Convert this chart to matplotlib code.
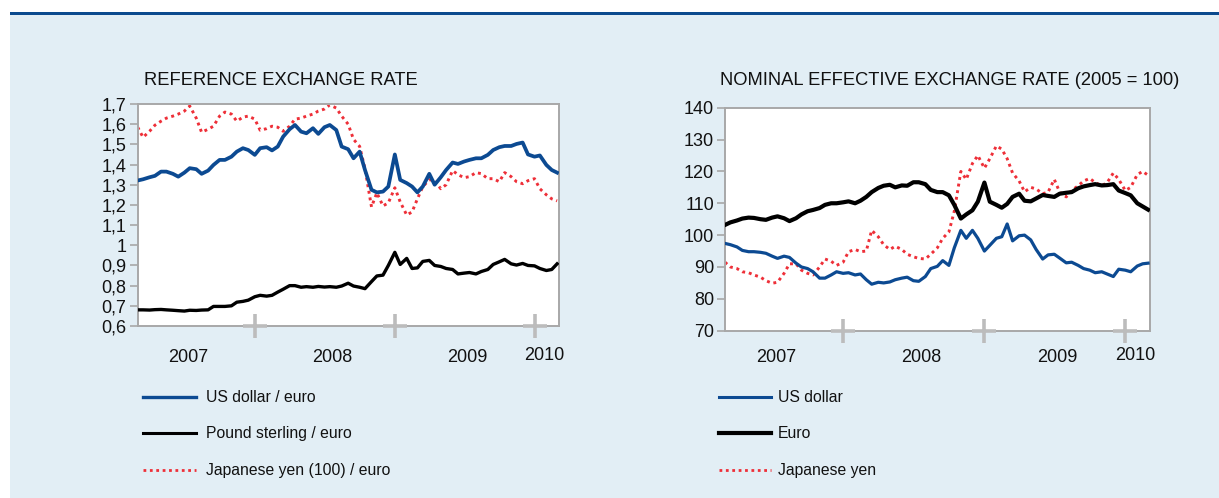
import numpy as np
import pandas as pd
import matplotlib
matplotlib.use("Agg")
import matplotlib.pyplot as plt
import matplotlib.transforms as mtransforms
from matplotlib.lines import Line2D
from matplotlib.patches import Rectangle
from matplotlib.ticker import FuncFormatter, MultipleLocator

plt.rcParams['font.family'] = ['Liberation Sans', 'DejaVu Sans']

# ---------------- data (semi-monthly readings, Mar 2007 - Mar 2010) ----------------
dates = pd.date_range('2007-03-01', periods=73, freq='SMS')

usd_eur = [1.321, 1.327, 1.337, 1.344, 1.365, 1.365, 1.354, 1.340, 1.360, 1.382,
           1.377, 1.354, 1.370, 1.398, 1.423, 1.423, 1.439, 1.464, 1.481, 1.472,
           1.448, 1.481, 1.486, 1.470, 1.489, 1.538, 1.575, 1.596, 1.563, 1.555,
           1.580, 1.552, 1.585, 1.596, 1.571, 1.489, 1.476, 1.431, 1.464, 1.373,
           1.275, 1.262, 1.266, 1.291, 1.450, 1.324, 1.308, 1.291, 1.262, 1.291,
           1.354, 1.300, 1.337, 1.373, 1.410, 1.403, 1.415, 1.423, 1.431, 1.431,
           1.448, 1.472, 1.486, 1.492, 1.492, 1.502, 1.509, 1.450, 1.439, 1.445,
           1.398, 1.373, 1.360]

gbp_eur = [0.680, 0.680, 0.679, 0.681, 0.682, 0.680, 0.678, 0.676, 0.674, 0.678,
           0.677, 0.679, 0.680, 0.697, 0.697, 0.697, 0.700, 0.718, 0.722, 0.728,
           0.745, 0.752, 0.748, 0.752, 0.768, 0.782, 0.800, 0.800, 0.792, 0.795,
           0.792, 0.796, 0.793, 0.795, 0.792, 0.798, 0.812, 0.798, 0.792, 0.785,
           0.820, 0.848, 0.852, 0.900, 0.965, 0.905, 0.935, 0.885, 0.888, 0.920,
           0.925, 0.900, 0.895, 0.885, 0.880, 0.858, 0.862, 0.865, 0.858, 0.870,
           0.880, 0.905, 0.918, 0.930, 0.908, 0.902, 0.910, 0.900, 0.898, 0.885,
           0.875, 0.880, 0.908]

jpy_eur = [1.585, 1.535, 1.565, 1.595, 1.615, 1.630, 1.640, 1.650, 1.665, 1.690,
           1.630, 1.560, 1.575, 1.590, 1.640, 1.660, 1.650, 1.615, 1.635, 1.640,
           1.625, 1.570, 1.578, 1.590, 1.585, 1.565, 1.590, 1.625, 1.630, 1.640,
           1.650, 1.665, 1.675, 1.695, 1.680, 1.640, 1.600, 1.525, 1.490, 1.380,
           1.190, 1.260, 1.195, 1.210, 1.285, 1.215, 1.150, 1.165, 1.230, 1.290,
           1.325, 1.320, 1.280, 1.300, 1.370, 1.350, 1.335, 1.340, 1.360, 1.355,
           1.330, 1.330, 1.315, 1.360, 1.340, 1.315, 1.305, 1.320, 1.330, 1.280,
           1.250, 1.230, 1.220]

neer_usd = [97.4, 97.0, 96.3, 95.2, 94.8, 94.8, 94.6, 94.3, 93.4, 92.7,
            93.4, 93.0, 91.2, 90.0, 89.5, 88.5, 86.5, 86.5, 87.5, 88.5,
            88.0, 88.2, 87.5, 87.8, 86.0, 84.6, 85.2, 85.0, 85.3, 86.0,
            86.5, 86.8, 85.7, 85.5, 87.0, 89.5, 90.2, 92.0, 90.5, 96.0,
            101.5, 99.0, 101.5, 99.0, 95.0, 96.8, 99.0, 99.5, 103.5, 98.2,
            99.8, 100.0, 98.5, 95.5, 92.5, 93.8, 94.0, 92.8, 91.3, 91.5,
            90.5, 89.5, 89.0, 88.2, 88.5, 87.8, 87.0, 89.3, 89.0, 88.5,
            90.3, 91.0, 91.2]

neer_eur = [103.2, 104.0, 104.6, 105.2, 105.5, 105.4, 105.0, 104.8, 105.5, 105.9,
            105.3, 104.4, 105.3, 106.5, 107.5, 107.9, 108.5, 109.5, 110.0, 110.0,
            110.3, 110.6, 110.0, 110.8, 112.0, 113.5, 114.8, 115.5, 115.8, 115.0,
            115.6, 115.5, 116.6, 116.6, 116.0, 114.2, 113.5, 113.5, 112.5, 109.5,
            105.2, 106.5, 107.8, 110.5, 116.5, 110.5, 109.5, 108.6, 109.8, 112.0,
            113.0, 110.8, 110.6, 111.5, 112.6, 112.3, 112.0, 113.0, 113.3, 113.5,
            114.7, 115.3, 115.7, 116.0, 115.6, 115.7, 116.0, 114.0, 113.2, 112.5,
            110.0, 109.0, 108.0]

neer_jpy = [91.5, 90.0, 89.5, 88.5, 88.2, 87.5, 86.8, 85.7, 84.9, 85.2,
            88.0, 91.0, 91.0, 89.0, 88.0, 87.5, 90.0, 92.5, 91.8, 90.5,
            91.5, 94.8, 95.5, 94.8, 95.0, 101.5, 99.5, 97.0, 95.5, 96.5,
            95.5, 94.0, 93.2, 92.7, 92.5, 94.0, 96.0, 99.0, 101.0, 107.5,
            120.0, 117.5, 122.5, 125.0, 121.0, 124.0, 128.0, 127.0, 124.0, 119.5,
            117.0, 113.6, 115.0, 114.5, 113.0, 113.5, 117.5, 113.5, 112.0, 114.0,
            115.5, 117.0, 117.8, 116.5, 115.5, 116.5, 119.5, 117.5, 114.0, 115.0,
            119.0, 120.0, 118.8]

year_labels = ['2007', '2008', '2009', '2010']
year_bounds = ['2008-01-01', '2009-01-01', '2010-01-01']

left_title = 'REFERENCE EXCHANGE RATE'
right_title = 'NOMINAL EFFECTIVE EXCHANGE RATE (2005 = 100)'
left_legend = ['US dollar / euro', 'Pound sterling / euro', 'Japanese yen (100) / euro']
right_legend = ['US dollar', 'Euro', 'Japanese yen']

# ---------------- styling ----------------
W, H = 1219, 498
BLUE = '#0c4a92'
RED = '#ee2f38'
BLACK = '#000000'
GREY = '#a8a8a8'
PLUS = '#bcbcbc'
BG = '#e2eef5'
TXT = '#111111'

fig = plt.figure(figsize=(W / 100, H / 100), dpi=100)
fig.patch.set_facecolor('white')
fig.patches.append(Rectangle((10 / W, 0), 1, 1 - 15 / H, transform=fig.transFigure,
                             facecolor=BG, edgecolor='none', zorder=-10))
fig.patches.append(Rectangle((10 / W, 1 - 15 / H), 1, 3 / H, transform=fig.transFigure,
                             facecolor='#0b4a8e', edgecolor='none', zorder=-9))


def px_ax(x0, x1, ytop, ybot):
    return fig.add_axes([x0 / W, 1 - ybot / H, (x1 - x0) / W, (ybot - ytop) / H])


axL = px_ax(137.7, 559, 104, 326)
axR = px_ax(725, 1150, 107.7, 330.7)

xlim = (pd.Timestamp('2007-03-01'), pd.Timestamp('2010-03-06'))
dot = (0, (1.0, 1.3))

axL.plot(dates, jpy_eur, color=RED, lw=2.1, linestyle=dot, zorder=2)
axL.plot(dates, gbp_eur, color=BLACK, lw=2.4, zorder=3)
axL.plot(dates, usd_eur, color=BLUE, lw=2.7, zorder=4)
axL.set_ylim(0.6, 1.7)
axL.yaxis.set_major_locator(MultipleLocator(0.1))


def comma_fmt(v, pos):
    v = round(v, 1)
    if abs(v - round(v)) < 1e-9:
        return f'{int(round(v))}'
    return f'{v:.1f}'.replace('.', ',')


axL.yaxis.set_major_formatter(FuncFormatter(comma_fmt))

axR.plot(dates, neer_jpy, color=RED, lw=2.1, linestyle=dot, zorder=2)
axR.plot(dates, neer_usd, color=BLUE, lw=2.3, zorder=3)
axR.plot(dates, neer_eur, color=BLACK, lw=3.0, zorder=4)
axR.set_ylim(70, 140)
axR.yaxis.set_major_locator(MultipleLocator(10))

label_pos = ['2007-07-11', '2008-07-22', '2009-07-10', '2010-01-26']
label_y = 1 - 357 / H

for ax in (axL, axR):
    ax.set_facecolor('white')
    ax.set_xlim(*xlim)
    for s in ax.spines.values():
        s.set_color(GREY)
        s.set_linewidth(1.4)
    ax.tick_params(axis='y', direction='out', length=6, width=1.2, color=GREY,
                   labelsize=13, pad=2, labelcolor=TXT)
    ax.set_xticks([])
    tr = mtransforms.blended_transform_factory(ax.transData, ax.transAxes)
    ax.plot(pd.to_datetime(year_bounds), [0] * len(year_bounds), linestyle='none',
            marker='+', markersize=17, markeredgewidth=2.6, color=PLUS,
            transform=tr, clip_on=False, zorder=6)
    trf = mtransforms.blended_transform_factory(ax.transData, fig.transFigure)
    for lab, pos in zip(year_labels, label_pos):
        yy = label_y + (2 / H if lab == '2010' else 0)
        ax.text(pd.Timestamp(pos), yy, lab, transform=trf, ha='center', va='center',
                fontsize=13, color=TXT)

fig.text(144 / W, 1 - 80.5 / H, left_title, ha='left', va='center', fontsize=13.2,
         color=TXT)
fig.text(720 / W, 1 - 80.5 / H, right_title, ha='left', va='center', fontsize=13.2,
         color=TXT)

leg_y = [397, 433, 470]
styles_L = [dict(color=BLUE, lw=2.4), dict(color=BLACK, lw=2.2),
            dict(color=RED, lw=2.0, linestyle=dot)]
styles_R = [dict(color=BLUE, lw=2.2), dict(color=BLACK, lw=3.0),
            dict(color=RED, lw=2.0, linestyle=dot)]

for (lx0, lx1, tx, labels, styles) in [(143, 196, 206, left_legend, styles_L),
                                        (719, 771, 778, right_legend, styles_R)]:
    for yy, lab, st in zip(leg_y, labels, styles):
        yf = 1 - yy / H
        fig.add_artist(Line2D([lx0 / W, lx1 / W], [yf, yf], transform=fig.transFigure, **st))
        fig.text(tx / W, yf, lab, ha='left', va='center', fontsize=11.3, color=TXT)

fig.savefig('out.png', dpi=100, facecolor=fig.get_facecolor())
